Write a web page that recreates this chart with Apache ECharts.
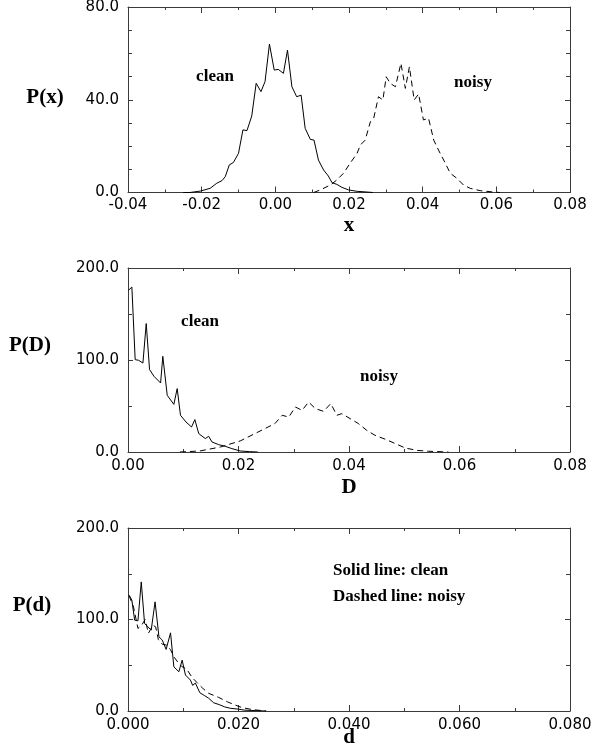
<!DOCTYPE html>
<html>
<head>
<meta charset="utf-8">
<script src="https://cdn.jsdelivr.net/npm/echarts@6/dist/echarts.min.js"></script>
<style>
  html, body { margin: 0; padding: 0; background: #fff; }
  #chart { width: 592px; height: 754px; }
</style>
</head>
<body>
<div id="chart"></div>
<script>
// Histogram of x: clean and noisy samples
const xCleanX = [-0.0250, -0.0232, -0.0204, -0.0177, -0.0159, -0.0145, -0.0136, -0.0125, -0.0114, -0.0100, -0.0088, -0.0077, -0.0064, -0.0052, -0.0039, -0.0028, -0.0016, -0.0003, 0.0008, 0.0022, 0.0033, 0.0045, 0.0058, 0.0070, 0.0081, 0.0095, 0.0105, 0.0117, 0.0131, 0.0144, 0.0154, 0.0167, 0.0181, 0.0199, 0.0222, 0.0249, 0.0265];
const xCleanP = [0, 0, 0.6, 1.8, 4.0, 5.1, 6.8, 11.9, 12.9, 16.9, 27.0, 26.7, 33.0, 47.1, 43.5, 47.8, 64.0, 52.8, 53.1, 51.4, 61.4, 45.6, 41.3, 42.0, 27.7, 22.9, 22.6, 14.0, 9.7, 7.1, 4.2, 3.5, 2.2, 1.1, 0.5, 0.2, 0];
const xNoisyX = [0.0104, 0.0122, 0.0149, 0.0167, 0.0185, 0.0203, 0.0222, 0.0231, 0.0244, 0.0258, 0.0267, 0.0280, 0.0292, 0.0301, 0.0312, 0.0326, 0.0341, 0.0353, 0.0364, 0.0377, 0.0389, 0.0402, 0.0416, 0.0430, 0.0443, 0.0457, 0.0475, 0.0493, 0.0511, 0.0529, 0.0556, 0.0592, 0.0610];
const xNoisyP = [0, 1.1, 3.2, 5.4, 8.3, 12.6, 16.9, 20.5, 22.6, 30.5, 32.0, 41.3, 39.9, 49.9, 47.1, 45.6, 55.7, 44.9, 54.2, 39.9, 42.5, 31.3, 32.0, 22.6, 18.3, 14.0, 8.3, 6.1, 3.2, 1.8, 0.8, 0.2, 0];

// Histogram of D
const DCleanX = [0.0001, 0.0007, 0.0013, 0.0019, 0.0027, 0.0033, 0.0039, 0.0047, 0.0059, 0.0063, 0.0071, 0.0083, 0.0089, 0.0095, 0.0105, 0.0115, 0.0121, 0.0128, 0.0140, 0.0146, 0.0152, 0.0164, 0.0176, 0.0188, 0.0203, 0.0220, 0.0235];
const DCleanP = [175.8, 179.3, 100.4, 99.7, 96.7, 139.6, 89.6, 82.3, 75.0, 104.0, 61.6, 51.8, 68.9, 39.9, 32.6, 27.2, 35.2, 20.0, 14.6, 17.1, 10.9, 8.0, 6.2, 3.7, 1.1, 0.4, 0];
const DNoisyX = [0.0094, 0.0130, 0.0167, 0.0203, 0.0233, 0.0266, 0.0279, 0.0291, 0.0303, 0.0315, 0.0327, 0.0339, 0.0354, 0.0367, 0.0378, 0.0387, 0.0402, 0.0417, 0.0432, 0.0447, 0.0466, 0.0484, 0.0502, 0.0523, 0.0544, 0.0580];
const DNoisyP = [0, 1.1, 5.4, 12.0, 21.0, 30.9, 39.9, 38.0, 48.9, 45.3, 54.3, 47.2, 44.2, 52.6, 39.9, 41.7, 36.3, 30.9, 23.6, 18.2, 13.8, 9.1, 4.3, 1.8, 0.8, 0];

// Histogram of d
const dCleanX = [0.0002, 0.0007, 0.0012, 0.0018, 0.0024, 0.0030, 0.0036, 0.0042, 0.0049, 0.0056, 0.0062, 0.0069, 0.0077, 0.0083, 0.0092, 0.0098, 0.0104, 0.0113, 0.0117, 0.0122, 0.0130, 0.0138, 0.0146, 0.0155, 0.0165, 0.0175, 0.0185, 0.0200, 0.0210, 0.0230, 0.0250];
const dCleanP = [126.6, 121.1, 99.3, 98.5, 141.1, 95.7, 92.0, 88.4, 119.3, 81.1, 77.5, 67.3, 85.4, 48.3, 42.9, 55.6, 39.3, 33.8, 28.0, 30.5, 20.0, 17.0, 14.0, 9.0, 7.0, 4.5, 3.0, 2.0, 1.0, 0.4, 0];
const dNoisyX = [0.0002, 0.0010, 0.0018, 0.0025, 0.0031, 0.0037, 0.0045, 0.0050, 0.0055, 0.0062, 0.0070, 0.0077, 0.0083, 0.0092, 0.0098, 0.0106, 0.0116, 0.0125, 0.0135, 0.0146, 0.0164, 0.0180, 0.0192, 0.0205, 0.0225, 0.0250];
const dNoisyP = [126.0, 113.8, 90.2, 94.0, 100.0, 85.0, 93.8, 92.0, 78.0, 73.0, 72.0, 67.0, 59.2, 52.0, 48.3, 46.0, 36.7, 31.0, 25.0, 19.3, 14.9, 10.0, 7.0, 4.0, 1.5, 0];

// Axis ranges and tick labels
const xRanges = [[-0.04, 0.08], [0, 0.08], [0, 0.08]];
const yRanges = [[0, 80], [0, 200], [0, 200]];
const yIntervals = [40, 100, 100];
const yMinorSplits = [4, 2, 2];
const xDecimals = [2, 2, 3];
const yNames = ['P(x)', 'P(D)', 'P(d)'];
const xNames = ['x', 'D', 'd'];

const pair = (xs, ys) => xs.map((v, i) => [v, ys[i]]);

const grids = [
  { left: 128, right: 22, top: 7, height: 185.5 },
  { left: 128, right: 22, top: 268, height: 184 },
  { left: 128, right: 22, top: 528, height: 183 }
];

const AXIS_COLOR = '#3a3a3a';
const tickFont = { fontFamily: 'DejaVu Sans', fontSize: 15, color: '#000' };
const labelMargins = [5, 7, 7];

const xAxes = [];
const yAxes = [];
grids.forEach((g, i) => {
  const fmtX = v => (Math.abs(v) < 1e-9 ? 0 : v).toFixed(xDecimals[i]);
  const fmtY = v => v.toFixed(1);
  const baseX = {
    type: 'value', gridIndex: i, min: xRanges[i][0], max: xRanges[i][1], interval: 0.02,
    axisLine: { show: true, onZero: false, lineStyle: { color: AXIS_COLOR, width: 1 } },
    axisTick: { show: true, inside: true, length: 6, lineStyle: { color: AXIS_COLOR } },
    minorTick: { show: true, splitNumber: 2, length: 3, lineStyle: { color: AXIS_COLOR } },
    splitLine: { show: false }, minorSplitLine: { show: false }
  };
  xAxes.push(Object.assign({}, baseX, {
    position: 'bottom',
    axisLabel: Object.assign({ show: true, margin: labelMargins[i], formatter: fmtX, showMinLabel: true, showMaxLabel: true }, tickFont)
  }));
  xAxes.push(Object.assign({}, baseX, { position: 'top', axisLabel: { show: false } }));
  const baseY = {
    type: 'value', gridIndex: i, min: yRanges[i][0], max: yRanges[i][1], interval: yIntervals[i],
    axisLine: { show: true, onZero: false, lineStyle: { color: AXIS_COLOR, width: 1 } },
    axisTick: { show: true, inside: true, length: 5, lineStyle: { color: AXIS_COLOR } },
    minorTick: { show: true, splitNumber: yMinorSplits[i], length: 4, lineStyle: { color: AXIS_COLOR } },
    splitLine: { show: false }, minorSplitLine: { show: false }
  };
  yAxes.push(Object.assign({}, baseY, {
    position: 'left',
    axisLabel: Object.assign({ show: true, margin: 9, formatter: fmtY, showMinLabel: true, showMaxLabel: true }, tickFont)
  }));
  yAxes.push(Object.assign({}, baseY, { position: 'right', axisLabel: { show: false } }));
});

const lineSeries = (data, panel, dashed) => ({
  type: 'line', xAxisIndex: panel * 2, yAxisIndex: panel * 2, data: data,
  showSymbol: false, symbol: 'none', smooth: false, silent: true,
  lineStyle: { color: '#000', width: 1, type: dashed ? [6, 4] : 'solid' },
  emphasis: { disabled: true }
});

const series = [
  lineSeries(pair(xCleanX, xCleanP), 0, false),
  lineSeries(pair(xNoisyX, xNoisyP), 0, true),
  lineSeries(pair(DCleanX, DCleanP), 1, false),
  lineSeries(pair(DNoisyX, DNoisyP), 1, true),
  lineSeries(pair(dCleanX, dCleanP), 2, false),
  lineSeries(pair(dNoisyX, dNoisyP), 2, true)
];

const serif = 'bold 17px "Liberation Serif", "Times New Roman", serif';
const serifBig = 'bold 21px "Liberation Serif", "Times New Roman", serif';
const txt = (text, x, y, font, align) => ({
  type: 'text', x: x, y: y, silent: true,
  style: { text: text, font: font, fill: '#000', align: align || 'center', verticalAlign: 'middle' }
});

const graphic = [
  txt(yNames[0], 45, 98, serifBig),
  txt(yNames[1], 30, 346, serifBig),
  txt(yNames[2], 32, 606, serifBig),
  txt(xNames[0], 349, 226, serifBig),
  txt(xNames[1], 349, 488, serifBig),
  txt(xNames[2], 349, 738, serifBig),
  txt('clean', 215, 77, serif),
  txt('noisy', 473, 83, serif),
  txt('clean', 200, 322, serif),
  txt('noisy', 379, 377, serif),
  txt('Solid line: clean', 333, 571, serif, 'left'),
  txt('Dashed line: noisy', 333, 597, serif, 'left')
];

const chart = echarts.init(document.getElementById('chart'), null, { renderer: 'canvas' });
chart.setOption({
  animation: false,
  backgroundColor: '#fff',
  grid: grids.map(g => Object.assign({ containLabel: false, outerBoundsMode: 'none' }, g)),
  xAxis: xAxes.map((a, k) => Object.assign(a, { gridIndex: Math.floor(k / 2) })),
  yAxis: yAxes.map((a, k) => Object.assign(a, { gridIndex: Math.floor(k / 2) })),
  series: series,
  graphic: graphic
});
</script>
</body>
</html>
